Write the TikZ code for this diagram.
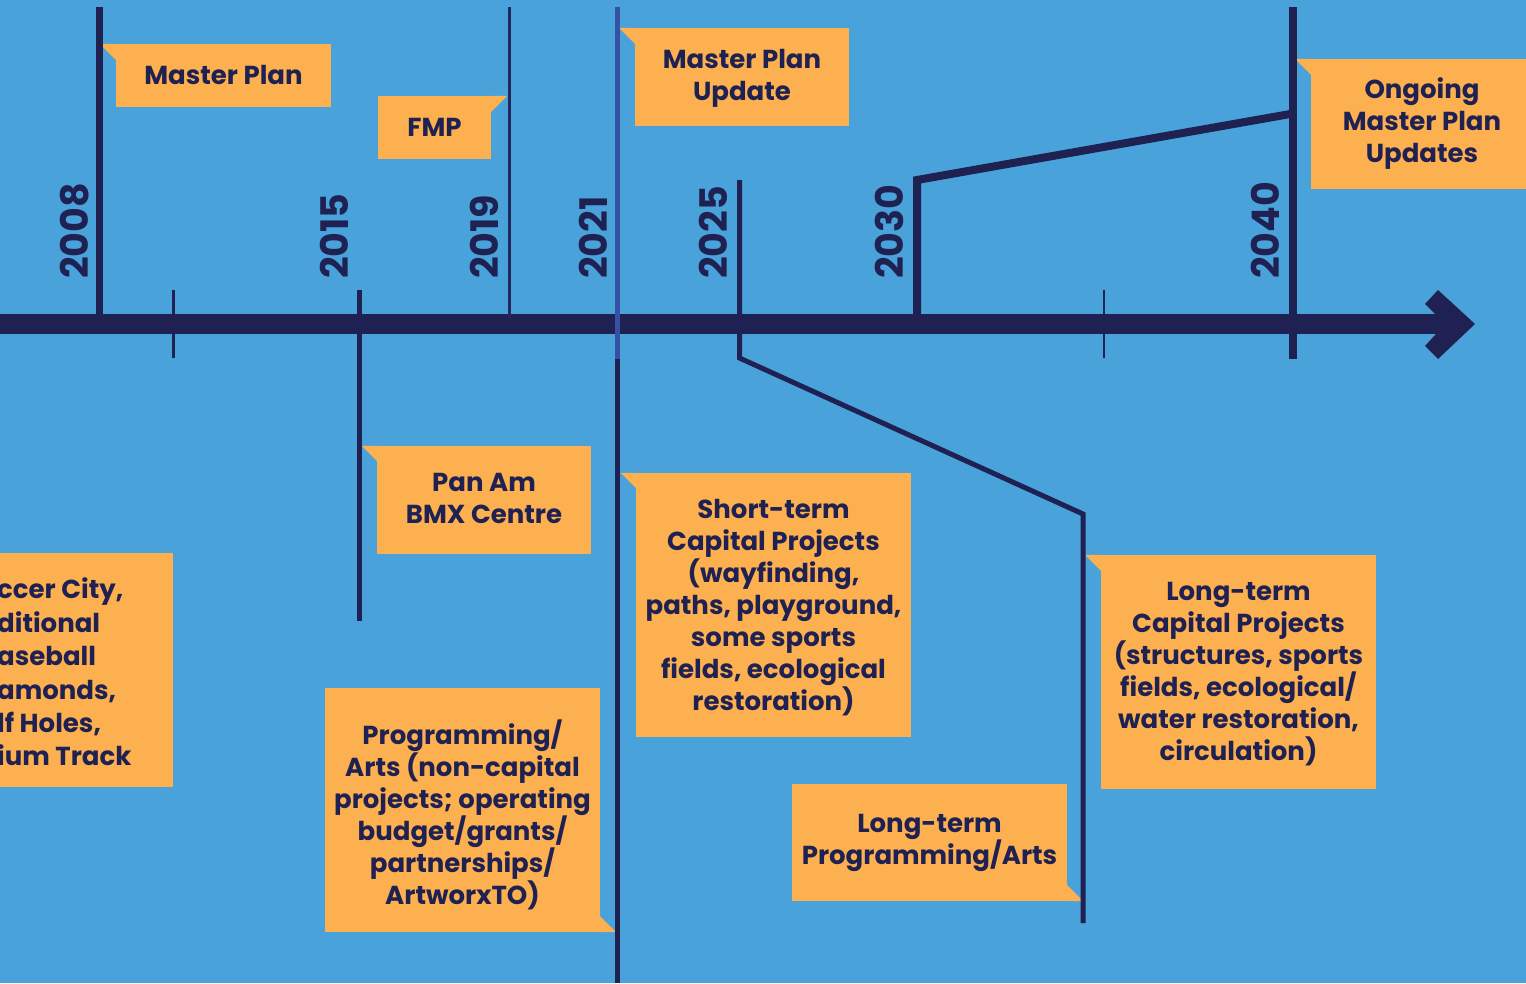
\documentclass[tikz,border=0pt]{standalone}
\usepackage{fontspec}
\setmainfont{Poppins}
\definecolor{bgblue}{HTML}{49A2DA}
\definecolor{navy}{HTML}{1F2152}
\definecolor{orng}{HTML}{FCB04F}
\definecolor{midblue}{HTML}{3550A4}
\begin{document}
\begin{tikzpicture}[x=1pt,y=-1pt,
  box/.style={fill=orng, inner sep=0pt},
  boxtxt/.style={text=navy, inner sep=0pt, align=center,
    font=\fontsize{26}{32}\selectfont\bfseries},
  yr/.style={rotate=90, anchor=west, inner sep=0pt, text=navy,
    font=\fontsize{38}{38}\selectfont\bfseries},
  fold/.style={fill=orng},
  vline/.style={draw=navy, line width=#1},
  vline/.default=5pt
]
\useasboundingbox (0,0) rectangle (1526,983);
\clip (0,0) rectangle (1526,983);
\fill[bgblue] (0,0) rectangle (1526,983);

% ---- boxes ----
\node[box, minimum width=215, minimum height=63] (mp) at (223.5,75.5) {};
\node[boxtxt, yshift=1pt] (mpt) at (mp.center) {Master Plan};
\fill[fold] (mp.north west) -- ++(-16,0) -- ++(16,16) -- cycle;

\node[box, minimum width=113, minimum height=63] (fmp) at (434.5,127.5) {};
\node[boxtxt] (fmpt) at (fmp.center) {FMP};
\fill[fold] (fmp.north east) -- ++(16,0) -- ++(-16,16) -- cycle;

\node[box, minimum width=214, minimum height=98] (mpu) at (742,77) {};
\node[boxtxt, yshift=-1.5pt] (mput) at (mpu.center) {Master Plan\\Update};
\fill[fold] (mpu.north west) -- ++(-16,0) -- ++(16,16) -- cycle;

\node[box, minimum width=222, minimum height=130] (omp) at (1422,124) {};
\node[boxtxt] (ompt) at (omp.center) {Ongoing\\Master Plan\\Updates};
\fill[fold] (omp.north west) -- ++(-16,0) -- ++(16,16) -- cycle;

\node[box, minimum width=214, minimum height=108] (bmx) at (484,500) {};
\node[boxtxt, yshift=1.5pt] (bmxt) at (bmx.center) {Pan Am\\BMX Centre};
\fill[fold] (bmx.north west) -- ++(-15,0) -- ++(15,15) -- cycle;

\node[box, minimum width=275, minimum height=264] (stc) at (773.5,605) {};
\node[boxtxt, yshift=-3pt] (stct) at (stc.center)
  {Short-term\\Capital Projects\\(wayfinding,\\paths, playground,\\some sports\\fields, ecological\\restoration)};
\fill[fold] (stc.north west) -- ++(-15,0) -- ++(15,15) -- cycle;

\node[box, minimum width=273, minimum height=234] (lft) at (36.5,670) {};
\node[text=navy, inner sep=0pt, anchor=west, align=left,
  font=\fontsize{26}{33.4}\selectfont\bfseries] (lfttxt) at (-3,672)
  {ccer City,\\ditional\\aseball\\amonds,\\lf Holes,\\ium Track};

\node[box, minimum width=275, minimum height=244] (prog) at (462.5,810) {};
\node[boxtxt, yshift=-5pt] (progt) at (prog.center)
  {Programming/\\Arts (non-capital\\projects; operating\\budget/grants/\\partnerships/\\ArtworxTO)};
\fill[fold] (prog.south east) -- ++(16,0) -- ++(-16,-16) -- cycle;

\node[box, minimum width=275, minimum height=117] (ltp) at (929.5,842.5) {};
\node[boxtxt] (ltpt) at (ltp.center) {Long-term\\Programming/Arts};
\fill[fold] (ltp.south east) -- ++(16,0) -- ++(-16,-16) -- cycle;

\node[box, minimum width=275, minimum height=234] (ltc) at (1238.5,672) {};
\node[boxtxt, yshift=-2pt] (ltct) at (ltc.center)
  {Long-term\\Capital Projects\\(structures, sports\\fields, ecological/\\water restoration,\\circulation)};
\fill[fold] (ltc.north west) -- ++(-16,0) -- ++(16,16) -- cycle;

% ---- axis ----
\coordinate (axstart) at (0,324);
\coordinate (axend) at (1450,324);
\draw[navy, line width=20pt] (axstart) -- (axend);
\fill[navy] (1425,304) -- (1438,290) -- (1475,324) -- (1438,359) -- (1425,346) -- (1445,324) -- cycle;

% ---- ticks and year lines ----
\draw[vline=7pt] (99.5,7) -- (99.5,320);
\draw[vline=3pt] (173.5,290) -- (173.5,358);
\draw[vline=5pt] (359.5,290) -- (359.5,621);
\draw[vline=3pt, draw=navy!85!midblue] (509.5,7) -- (509.5,318);
\draw[line width=5pt, draw=midblue] (617.5,7) -- (617.5,359);
\draw[vline=5pt] (617.5,359) -- (617.5,983);
\draw[vline=5pt, line join=miter] (739.5,180) -- (739.5,358) -- (1083,514) -- (1083,923);
\draw[vline=8pt, line join=miter] (917,318) -- (917,180) -- (1293,113.5);
\draw[vline=2pt] (1103.5,290) -- (1103.5,358);
\draw[vline=8pt] (1293,7) -- (1293,359);

% ---- years ----
\node[yr] (y2008) at (74.5,279) {2008};
\node[yr] (y2015) at (334,279) {2015};
\node[yr] (y2019) at (484,279) {2019};
\node[yr] (y2021) at (593,279) {2021};
\node[yr] (y2025) at (713.5,279) {2025};
\node[yr] (y2030) at (889.5,279) {2030};
\node[yr] (y2040) at (1265.5,279) {2040};
\end{tikzpicture}
\end{document}
